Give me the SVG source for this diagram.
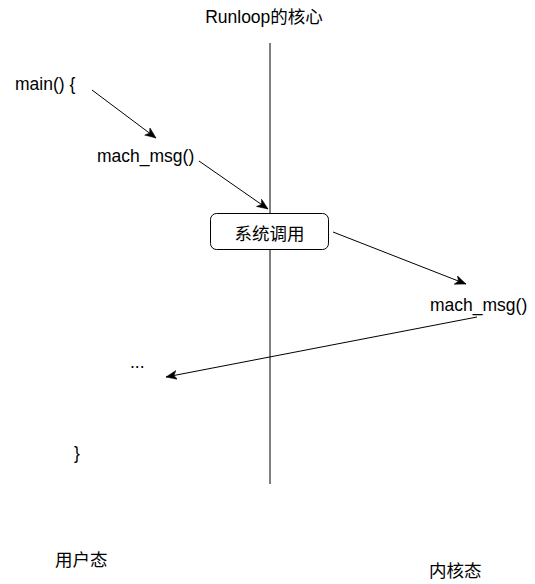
<svg xmlns="http://www.w3.org/2000/svg" width="535" height="584" viewBox="0 0 535 584">
<style>
text{font-family:"Liberation Sans","Noto Sans CJK SC",sans-serif;font-size:17.5px;fill:#000}
.c{fill:none;stroke:#000;stroke-width:1}
</style>
<defs>
<marker id="ah" markerUnits="userSpaceOnUse" markerWidth="12" markerHeight="10" refX="11" refY="4.5" orient="auto">
<path d="M0,0 L11,4.5 L0,9 L3,4.5 z" fill="#000" stroke="#000" stroke-width="0.5"/>
</marker>
</defs>
<rect width="535" height="584" fill="#fff"/>
<g id="title"><text x="264" y="23" text-anchor="middle">Runloop的核心</text></g>
<g id="divider"><line class="c" x1="270" y1="43" x2="270" y2="484"/></g>
<g id="main"><text x="15" y="90">main() {</text></g>
<g id="mach_msg_user"><text x="97" y="162">mach_msg()</text></g>
<g id="syscall"><rect x="210.5" y="213.5" width="118" height="36" rx="6" fill="#fff" stroke="#000"/><text x="269.5" y="240" text-anchor="middle">系统调用</text></g>
<g id="mach_msg_kernel"><text x="430" y="311">mach_msg()</text></g>
<g id="dots"><text x="130" y="368">...</text></g>
<g id="close"><text x="74" y="459">}</text></g>
<g id="user_mode"><text x="55" y="566">用户态</text></g>
<g id="kernel_mode"><text x="429" y="577">内核态</text></g>
<g id="connectors">
<line class="c" x1="92" y1="90" x2="156" y2="138" marker-end="url(#ah)"/>
<line class="c" x1="199" y1="161" x2="268" y2="209" marker-end="url(#ah)"/>
<line class="c" x1="333" y1="232" x2="466" y2="284" marker-end="url(#ah)"/>
<line class="c" x1="477" y1="317" x2="166" y2="377" marker-end="url(#ah)"/>
</g>
</svg>
